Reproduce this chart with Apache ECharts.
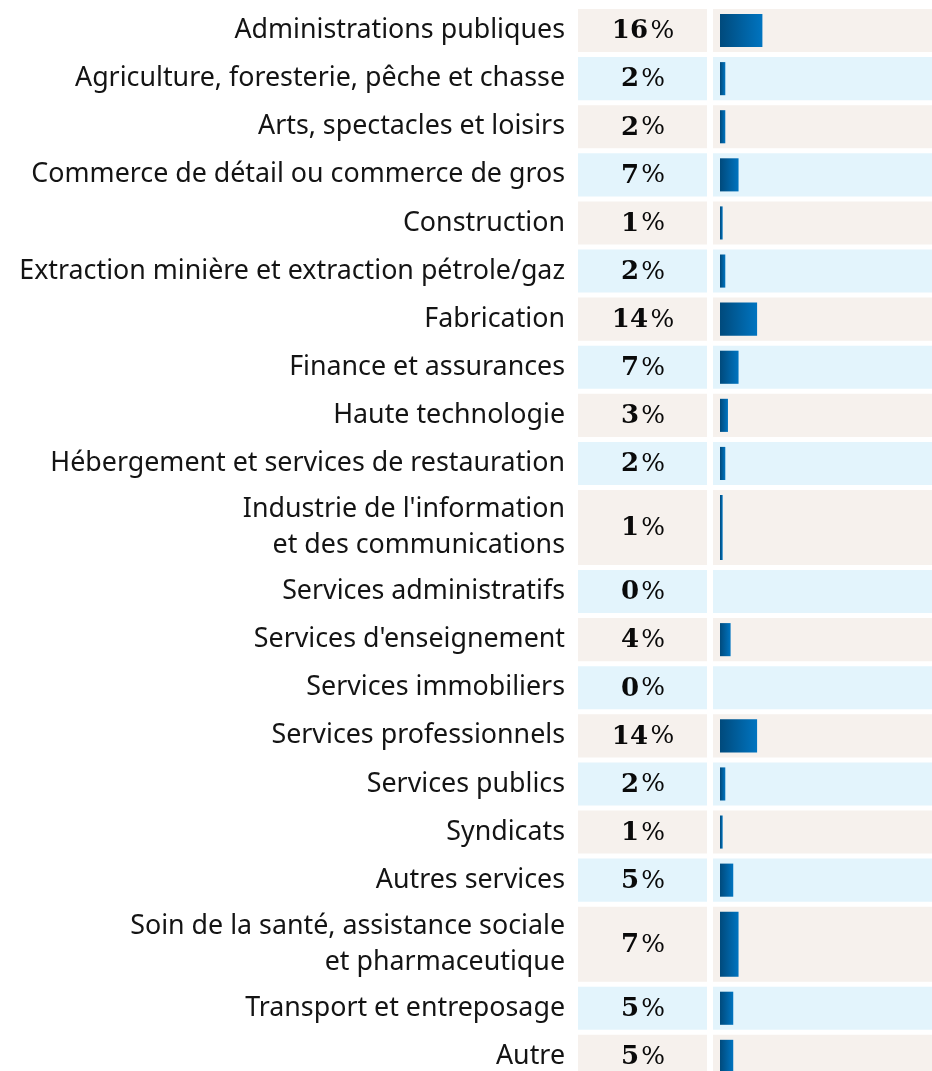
<!DOCTYPE html>
<html>
<head>
<meta charset="utf-8">
<script src="https://cdn.jsdelivr.net/npm/echarts@6/dist/echarts.min.js"></script>
<style>
  html, body { margin: 0; padding: 0; background: #fff; }
  #main { width: 932px; height: 1071px; }
</style>
</head>
<body>
<div id="main"></div>
<script>
// secteurs d'activité
const categories = [
  'Administrations publiques',
  'Agriculture, foresterie, pêche et chasse',
  'Arts, spectacles et loisirs',
  'Commerce de détail ou commerce de gros',
  'Construction',
  'Extraction minière et extraction pétrole/gaz',
  'Fabrication',
  'Finance et assurances',
  'Haute technologie',
  'Hébergement et services de restauration',
  "Industrie de l'information\net des communications",
  'Services administratifs',
  "Services d'enseignement",
  'Services immobiliers',
  'Services professionnels',
  'Services publics',
  'Syndicats',
  'Autres services',
  'Soin de la santé, assistance sociale\net pharmaceutique',
  'Transport et entreposage',
  'Autre'
];
// part en %
const values = [16, 2, 2, 7, 1, 2, 14, 7, 3, 2, 1, 0, 4, 0, 14, 2, 1, 5, 7, 5, 5];

const chart = echarts.init(document.getElementById('main'));

// hauteur d'une ligne : simple ou sur deux lignes de texte
const ROW = 48.1, ROW2 = 80, GAP = 5;
let cursor = 0;
const rows = categories.map((name, i) => {
  const h = name.indexOf('\n') >= 0 ? ROW2 : ROW;
  const item = [values[i], cursor, h - GAP, i];
  cursor += h;
  return item;
});

const BEIGE = '#f6f1ed';
const BLUE = '#e3f4fc';
const TOP = 9, H = 1071;

function renderRow(params, api) {
  const v = api.value(0);
  const start = api.value(1);
  const h = api.value(2);
  const idx = api.value(3);
  const p0 = api.coord([0, start]);
  const p1 = api.coord([v, start + h]);
  const top = p0[1];
  const hh = p1[1] - top;
  const x0 = p0[0];
  const mid = top + hh / 2;
  const bg = idx % 2 ? BLUE : BEIGE;
  const children = [
    // cellule pourcentage
    { type: 'rect', shape: { x: x0 - 142, y: top, width: 129, height: hh }, style: { fill: bg } },
    // cellule barre
    { type: 'rect', shape: { x: x0 - 7, y: top, width: api.getWidth() - (x0 - 7), height: hh }, style: { fill: bg } },
    {
      type: 'text', x: x0 - 77, y: mid + 1,
      style: {
        text: '{n|' + v + '}\u2009{p|%}',
        align: 'center', verticalAlign: 'middle',
        rich: {
          n: { fontFamily: 'DejaVu Serif', fontWeight: 'bold', fontSize: 26, fill: '#0a0a0a' },
          p: { fontFamily: 'DejaVu Serif', fontWeight: 'normal', fontSize: 25, fill: '#0a0a0a' }
        }
      }
    },
    {
      type: 'text', x: x0 - 155, y: mid,
      style: {
        text: categories[idx],
        align: 'right', verticalAlign: 'middle',
        fontFamily: 'Noto Sans', fontSize: 26.8, lineHeight: 36, fill: '#141414'
      }
    }
  ];
  if (v > 0) {
    children.push({
      type: 'rect',
      shape: { x: x0, y: top + 5, width: p1[0] - x0, height: hh - 10 },
      style: {
        fill: new echarts.graphic.LinearGradient(0, 0, 1, 0, [
          { offset: 0, color: '#004a7c' },
          { offset: 1, color: '#0074c0' }
        ])
      }
    });
  }
  return { type: 'group', children: children };
}

chart.setOption({
  animation: false,
  grid: { left: 720, right: 0, top: TOP, bottom: 0 },
  xAxis: { type: 'value', min: 0, max: 80, show: false },
  // 1 unité = 1 px sur la zone visible
  yAxis: { type: 'value', min: 0, max: H - TOP, inverse: true, show: false },
  series: [{
    type: 'custom',
    clip: false,
    renderItem: renderRow,
    encode: { x: 0, y: 1 },
    data: rows
  }]
});
</script>
</body>
</html>
